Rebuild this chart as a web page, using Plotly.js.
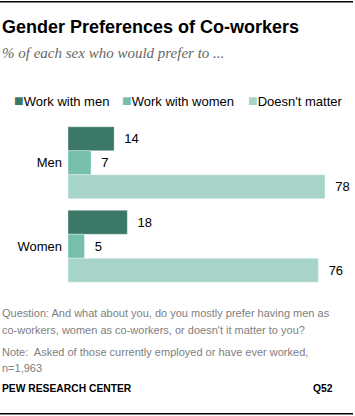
<!DOCTYPE html>
<html><head><meta charset="utf-8">
<script src="https://cdn.plot.ly/plotly-3.0.1.min.js"></script>
<style>html,body{margin:0;padding:0;background:#fff;}#chart{width:355px;height:416px;}</style>
</head><body><div id="chart"></div>
<script>
const groups = ['Men', 'Women'];
const seriesNames = ['Work with men', 'Work with women', "Doesn't matter"];
const workWithMen = [14, 18];
const workWithWomen = [7, 5];
const doesntMatter = [78, 76];
const colors = ['#3b7867', '#76bfad', '#a7d4c8'];

const W = 355, H = 416;
const mL = 68, mR = 30, mT = 121.25, mB = 127.75;
const plotW = W - mL - mR, plotH = H - mT - mB;
const px = x => (x - mL) / plotW;
const py = y => (H - mB - y) / plotH;

const seriesVals = [workWithMen, workWithWomen, doesntMatter];
const NB = '\u00a0';
const traces = seriesVals.map((vals, i) => ({
  type: 'bar', orientation: 'h', name: seriesNames[i],
  x: vals, y: groups,
  marker: {color: colors[i], line: {color: 'rgba(255,255,255,0.35)', width: 1}},
  text: vals.map(v => NB + NB + v), textposition: 'outside', cliponaxis: false,
  textfont: {family: 'Liberation Sans, Arial, sans-serif', size: 13, color: '#000'},
  hoverinfo: 'none', showlegend: false
}));

const sans = 'Liberation Sans, Arial, sans-serif';
const ann = [];
function A(text, x, y, opts) {
  ann.push(Object.assign({text, xref: 'paper', yref: 'paper', x: px(x), y: py(y),
    xanchor: 'left', yanchor: 'middle', showarrow: false,
    font: {family: sans, size: 11, color: '#808080'}}, opts || {}));
}
A('<b>Gender Preferences of Co-workers</b>', 0, 27, {font: {family: sans, size: 18, color: '#000'}});
A('<i>% of each sex who would prefer to ...</i>', 0, 53, {font: {family: 'Liberation Serif, Georgia, serif', size: 15, color: '#666'}});
const legX = [12, 120, 246];
seriesNames.forEach((n, i) => {
  A('<span style="color:' + colors[i] + ';font-size:16px">■</span>' + n, legX[i], 101, {font: {family: sans, size: 13, color: '#000'}});
});
A('Question: And what about you, do you mostly prefer having men as', 0, 313);
A("co-workers, women as co-workers, or doesn't it matter to you?", 0, 330);
A('Note:  Asked of those currently employed or have ever worked,', 0, 352);
A('n=1,963', 0, 368);
A('<b>PEW RESEARCH CENTER</b>', 0, 389, {font: {family: sans, size: 10.3, color: '#000'}});
A('<b>Q52</b>', 335, 389, {xanchor: 'right', font: {family: sans, size: 10.3, color: '#000'}});

const layout = {
  width: W, height: H,
  margin: {l: mL, r: mR, t: mT, b: mB, pad: 0},
  paper_bgcolor: '#fff', plot_bgcolor: '#fff',
  barmode: 'group', bargap: 0.138, bargroupgap: 0,
  xaxis: {range: [0, 78], visible: false, fixedrange: true},
  yaxis: {type: 'category', categoryarray: groups, range: [1.5, -0.5],
    showgrid: false, zeroline: false, showline: false, ticks: '', ticklen: 0,
    tickfont: {family: sans, size: 13, color: '#000'}, ticklabelstandoff: 5, fixedrange: true},
  showlegend: false,
  annotations: ann,
  shapes: [
    {type: 'line', xref: 'paper', yref: 'paper', x0: px(0), x1: px(353), y0: py(2), y1: py(2), line: {color: '#000', width: 1.5}},
    {type: 'line', xref: 'paper', yref: 'paper', x0: px(0), x1: px(353), y0: py(414), y1: py(414), line: {color: '#000', width: 1.5}}
  ]
};
Plotly.newPlot('chart', traces, layout, {displayModeBar: false, staticPlot: true});
</script></body></html>
